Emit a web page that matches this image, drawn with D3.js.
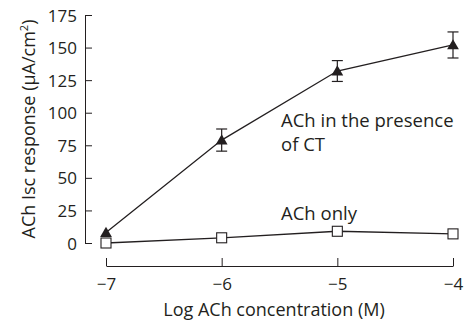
<!DOCTYPE html>
<html>
<head>
<meta charset="utf-8">
<script src="https://cdn.jsdelivr.net/npm/d3@7"></script>
<style>
  body { margin: 0; background: #fff; }
  text { font-family: "Open Sans", "Noto Sans", sans-serif; fill: #231f20; }
</style>
</head>
<body>
<div id="chart"></div>
<script>
// datos
const logConc = [-7, -6, -5, -4];
const withCT = [8, 79, 132, 152];
const withCTErr = [0, 8.5, 8, 10];
const achOnly = [0, 4, 9, 7];
const yTicks = [0, 25, 50, 75, 100, 125, 150, 175];
const xTicks = [-7, -6, -5, -4];

const width = 464, height = 322;
const svg = d3.select("#chart").append("svg")
    .attr("width", width).attr("height", height);

const x = d3.scaleLinear().domain([-7, -4]).range([106, 453]);
const y = d3.scaleLinear().domain([0, 175]).range([243, 15]);
const ink = "#231f20";

// eje Y
const yAxis = svg.append("g")
    .attr("transform", "translate(85,0)")
    .call(d3.axisRight(y).tickValues(yTicks).tickSize(7).tickSizeOuter(0));
yAxis.select(".domain").attr("stroke", ink);
yAxis.selectAll(".tick line").attr("stroke", ink);
yAxis.selectAll(".tick text")
    .attr("x", -8).attr("text-anchor", "end")
    .style("font-size", "17px").attr("dy", "0.36em");

// eje X
const xAxis = svg.append("g")
    .attr("transform", "translate(0,266)")
    .call(d3.axisTop(x).tickValues(xTicks).tickSize(8).tickSizeOuter(0)
        .tickFormat(d => "\u2212" + Math.abs(d)));
xAxis.select(".domain").attr("stroke", ink);
xAxis.selectAll(".tick line").attr("stroke", ink);
xAxis.selectAll(".tick text")
    .attr("y", 24).attr("dy", 0)
    .style("font-size", "17px");

svg.append("text")
    .attr("x", 274).attr("y", 316)
    .attr("text-anchor", "middle")
    .style("font-size", "18px")
    .text("Log ACh concentration (M)");

const yl = svg.append("text")
    .attr("transform", "translate(35,129) rotate(-90)")
    .attr("text-anchor", "middle")
    .style("font-size", "18px");
yl.append("tspan").text("ACh Isc response (µA/cm");
yl.append("tspan").attr("dy", -7).style("font-size", "11px").text("2");
yl.append("tspan").attr("dy", 7).text(")");

const line = d3.line().x((d, i) => x(logConc[i])).y(d => y(d));

// ACh solo
svg.append("path").datum(achOnly)
    .attr("d", line).attr("fill", "none").attr("stroke", ink).attr("stroke-width", 1.3);

// ACh + CT
svg.append("path").datum(withCT)
    .attr("d", line).attr("fill", "none").attr("stroke", ink).attr("stroke-width", 1.3);

// barras de error
const eb = svg.append("g").selectAll("g")
    .data(withCT.map((v, i) => ({ x: logConc[i], v, e: withCTErr[i] })).filter(d => d.e > 0))
    .join("g");
eb.append("line")
    .attr("x1", d => x(d.x)).attr("x2", d => x(d.x))
    .attr("y1", d => y(d.v + d.e)).attr("y2", d => y(d.v - d.e))
    .attr("stroke", ink).attr("stroke-width", 1.2);
eb.selectAll(".cap").data(d => [d.v + d.e, d.v - d.e].map(v => ({ x: d.x, v })))
    .join("line")
    .attr("x1", d => x(d.x) - 5.5).attr("x2", d => x(d.x) + 5.5)
    .attr("y1", d => y(d.v)).attr("y2", d => y(d.v))
    .attr("stroke", ink).attr("stroke-width", 1.2);

svg.append("g").selectAll("path")
    .data(withCT)
    .join("path")
    .attr("d", d3.symbol(d3.symbolTriangle, 60))
    .attr("transform", (d, i) => `translate(${x(logConc[i])},${y(d) + 1})`)
    .attr("fill", ink);

svg.append("g").selectAll("rect")
    .data(achOnly)
    .join("rect")
    .attr("x", (d, i) => x(logConc[i]) - 5)
    .attr("y", d => y(d) - 5)
    .attr("width", 10).attr("height", 10)
    .attr("fill", "#fff").attr("stroke", ink).attr("stroke-width", 1.1);

// anotaciones
const ann = [
  { t: "ACh in the presence", x: 281, y: 127 },
  { t: "of CT", x: 281, y: 151 },
  { t: "ACh only", x: 281, y: 220 }
];
svg.append("g").selectAll("text").data(ann).join("text")
    .attr("x", d => d.x).attr("y", d => d.y)
    .style("font-size", "18.5px")
    .text(d => d.t);
</script>
</body>
</html>
